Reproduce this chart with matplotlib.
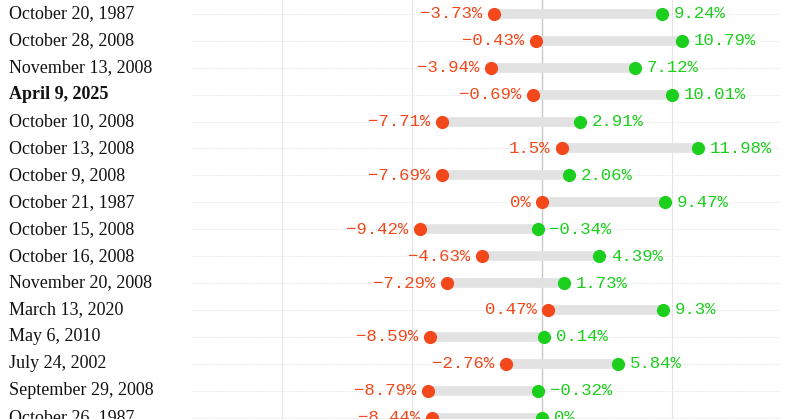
import matplotlib.pyplot as plt

dates = ["October 20, 1987", "October 28, 2008", "November 13, 2008", "April 9, 2025",
         "October 10, 2008", "October 13, 2008", "October 9, 2008", "October 21, 1987",
         "October 15, 2008", "October 16, 2008", "November 20, 2008", "March 13, 2020",
         "May 6, 2010", "July 24, 2002", "September 29, 2008", "October 26, 1987"]
lows = [-3.73, -0.43, -3.94, -0.69, -7.71, 1.5, -7.69, 0, -9.42, -4.63, -7.29, 0.47,
        -8.59, -2.76, -8.79, -8.44]
highs = [9.24, 10.79, 7.12, 10.01, 2.91, 11.98, 2.06, 9.47, -0.34, 4.39, 1.73, 9.3,
         0.14, 5.84, -0.32, 0]
highlight = "April 9, 2025"

RED = "#f2481b"
GREEN = "#1ccf1c"

def fmt(v):
    return "{:g}%".format(v).replace("-", "\u2212")

fig = plt.figure(figsize=(8, 4.19), dpi=100)
ax = fig.add_axes([0, 0, 1, 1])
# x: pixel 542 = 0, 13 px per percent
ax.set_xlim(-542 / 13.0, (800 - 542) / 13.0)
ax.set_ylim((419 - 14) / 26.9, -14 / 26.9)
ax.axis("off")

for g in (-20, -10, 10):
    ax.axvline(g, color="#e4e4e4", lw=0.8, zorder=0)
ax.axvline(0, color="#c8c8c8", lw=1.0, zorder=0)

for i, (d, lo, hi) in enumerate(zip(dates, lows, highs)):
    ax.plot([-27, 18.2], [i, i], color="#e6e6e6", lw=0.8, ls=(0, (1, 1)), zorder=0)
    ax.plot([lo, hi], [i, i], color="#e2e2e2", lw=7, solid_capstyle="butt", zorder=1)
    ax.plot(lo, i, "o", color=RED, ms=9.5, mec="none", zorder=3)
    ax.plot(hi, i, "o", color=GREEN, ms=9.5, mec="none", zorder=3)
    ax.text(-41.0, i, d, ha="left", va="center", fontsize=13,
            family="Liberation Serif", weight="bold" if d == highlight else "normal",
            color="#111111")
    ax.text(lo - 0.9, i, fmt(lo), ha="right", va="center", fontsize=12.5,
            family="Liberation Mono", color=RED)
    ax.text(hi + 0.9, i, fmt(hi), ha="left", va="center", fontsize=12.5,
            family="Liberation Mono", color=GREEN)

fig.savefig("out.png", dpi=100)
